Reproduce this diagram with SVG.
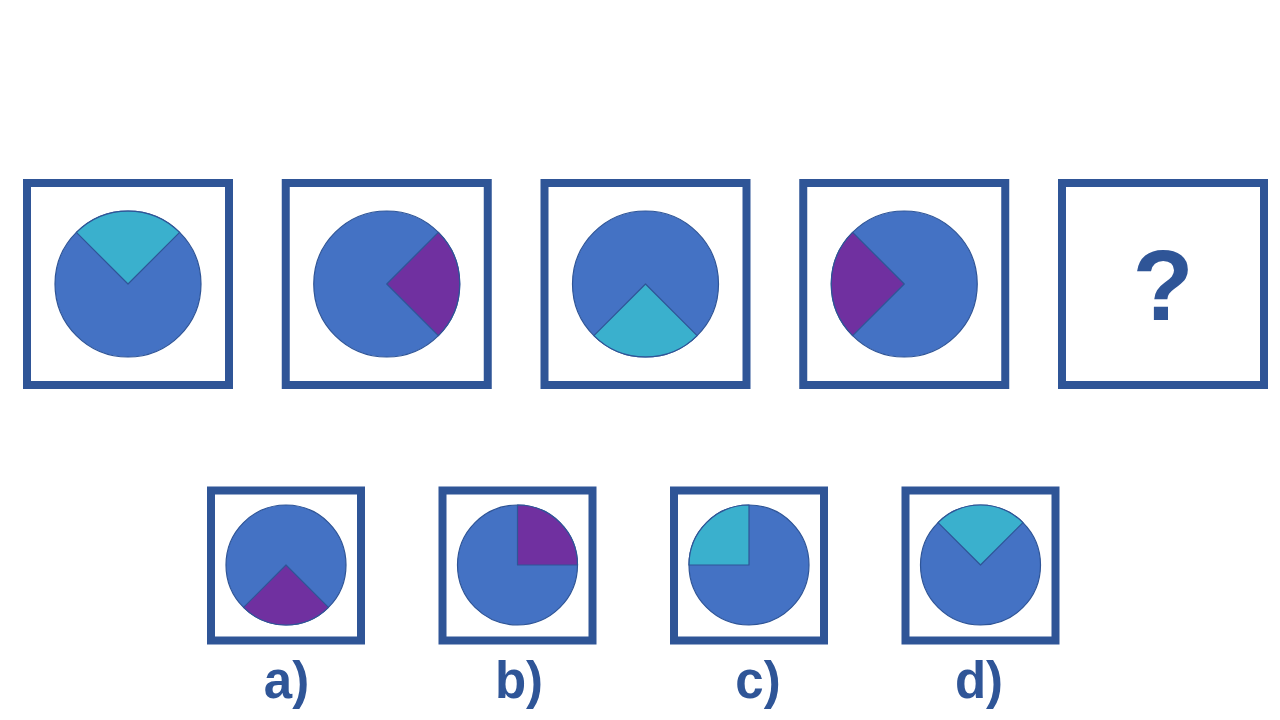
<svg xmlns="http://www.w3.org/2000/svg" width="1280" height="720" viewBox="0 0 1280 720">
<style>
.box{fill:#fff;stroke:#2F5597;stroke-width:8}
.disc{fill:#4472C4;stroke:#2F5597;stroke-width:1.2}
.cyan{fill:#3AB0CD;stroke:#2F5597;stroke-width:1.2;stroke-linejoin:round}
.purple{fill:#7030A0;stroke:#2F5597;stroke-width:1.2;stroke-linejoin:round}
.lbl{font-family:"Liberation Sans",Arial,sans-serif;font-weight:bold;fill:#2F5597;text-anchor:middle}
</style>
<rect width="1280" height="720" fill="#fff"/>
<g id="seq1">
<rect class="box" x="27" y="183" width="202" height="202"/>
<circle class="disc" cx="128" cy="284" r="73"/>
<path class="cyan" d="M128,284 L76.4,232.4 A73,73 0 0 1 179.6,232.4 Z"/>
</g>
<g id="seq2">
<rect class="box" x="285.75" y="183" width="202" height="202"/>
<circle class="disc" cx="386.75" cy="284" r="73"/>
<path class="purple" d="M386.75,284 L438.35,232.4 A73,73 0 0 1 438.35,335.6 Z"/>
</g>
<g id="seq3">
<rect class="box" x="544.5" y="183" width="202" height="202"/>
<circle class="disc" cx="645.5" cy="284" r="73"/>
<path class="cyan" d="M645.5,284 L697.1,335.6 A73,73 0 0 1 593.9,335.6 Z"/>
</g>
<g id="seq4">
<rect class="box" x="803.25" y="183" width="202" height="202"/>
<circle class="disc" cx="904.25" cy="284" r="73"/>
<path class="purple" d="M904.25,284 L852.65,335.6 A73,73 0 0 1 852.65,232.4 Z"/>
</g>
<g id="seq5">
<rect class="box" x="1062" y="183" width="202" height="202"/>
<text class="lbl" x="1163" y="320" font-size="100">?</text>
</g>
<g id="optA">
<rect class="box" x="211" y="490.5" width="150" height="150"/>
<circle class="disc" cx="286" cy="565" r="60"/>
<path class="purple" d="M286,565 L328.43,607.43 A60,60 0 0 1 243.57,607.43 Z"/>
<text class="lbl" x="286.5" y="698" font-size="51">a)</text>
</g>
<g id="optB">
<rect class="box" x="442.5" y="490.5" width="150" height="150"/>
<circle class="disc" cx="517.5" cy="565" r="60"/>
<path class="purple" d="M517.5,565 L517.5,505 A60,60 0 0 1 577.5,565 Z"/>
<text class="lbl" x="519" y="698" font-size="51">b)</text>
</g>
<g id="optC">
<rect class="box" x="674" y="490.5" width="150" height="150"/>
<circle class="disc" cx="749" cy="565" r="60"/>
<path class="cyan" d="M749,565 L689,565 A60,60 0 0 1 749,505 Z"/>
<text class="lbl" x="758" y="698" font-size="51">c)</text>
</g>
<g id="optD">
<rect class="box" x="905.5" y="490.5" width="150" height="150"/>
<circle class="disc" cx="980.5" cy="565" r="60"/>
<path class="cyan" d="M980.5,565 L938.07,522.57 A60,60 0 0 1 1022.93,522.57 Z"/>
<text class="lbl" x="979" y="698" font-size="51">d)</text>
</g>
<g id="connectors"/>
</svg>
